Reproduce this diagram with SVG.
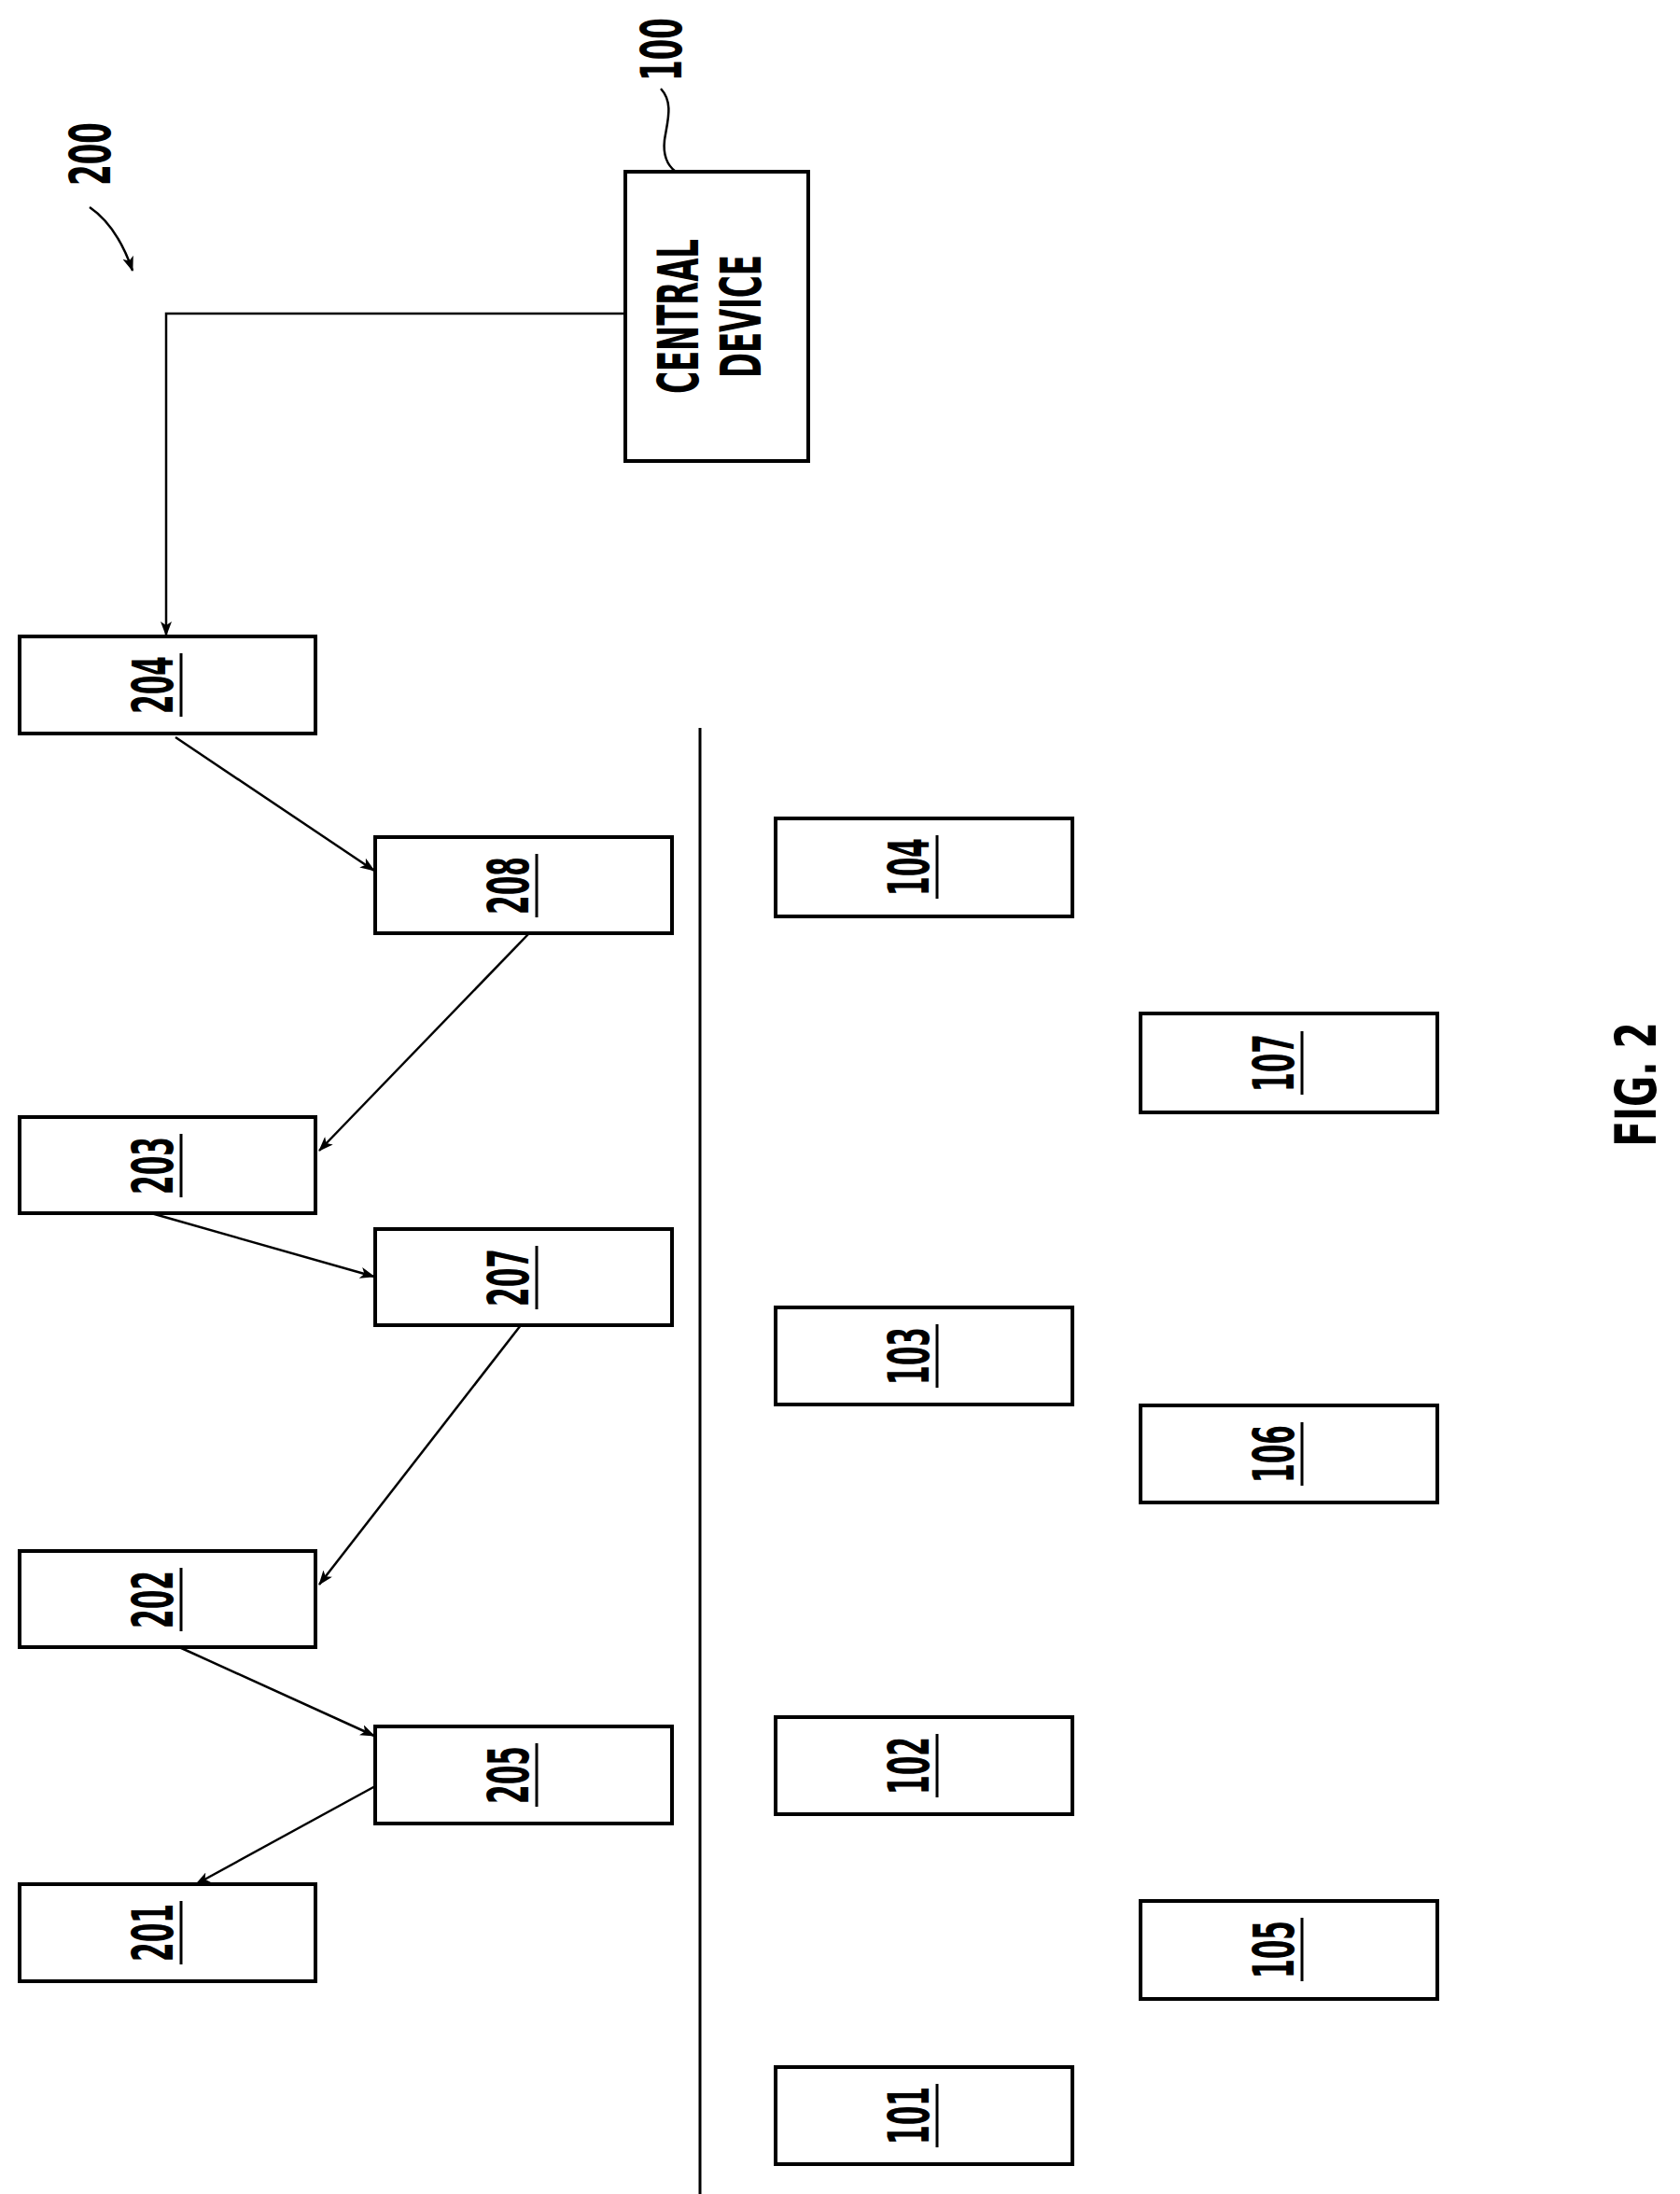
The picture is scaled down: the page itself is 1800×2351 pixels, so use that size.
<svg xmlns="http://www.w3.org/2000/svg" width="1800" height="2351" viewBox="0 0 1800 2351">
<style>
.box{fill:#fff;stroke:#000;stroke-width:4}
.lbl{font-family:"DejaVu Sans Condensed","DejaVu Sans",sans-serif;font-weight:bold;font-size:60px;text-anchor:middle;fill:#000}
.ul{stroke:#000;stroke-width:3}
.con{stroke:#000;stroke-width:2.5;fill:none}
</style>
<defs>
<marker id="ah" markerWidth="16" markerHeight="12" refX="15" refY="6" orient="auto" markerUnits="userSpaceOnUse">
<path d="M0,0 L16,6 L0,12 L4,6 Z" fill="#000"/>
</marker>
</defs>
<rect width="1800" height="2351" fill="#fff"/>
<g id="central">
<rect class="box" x="670" y="184" width="196" height="310"/>
<text class="lbl" transform="translate(748,339) rotate(-90) scale(0.6,1)" font-size="52">CENTRAL</text>
<text class="lbl" transform="translate(815,339) rotate(-90) scale(0.6,1)" font-size="52">DEVICE</text>
</g>
<g id="label100">
<text class="lbl" transform="translate(730,53) rotate(-90) scale(0.6,1)" font-size="56">100</text>
<path class="con" d="M708,95 C722,110 715,130 712,150 C710,168 716,178 724,184"/>
</g>
<g id="label200">
<text class="lbl" transform="translate(118,165) rotate(-90) scale(0.6,1)" font-size="56">200</text>
<path class="con" d="M96,222 C115,235 130,255 142,290" marker-end="url(#ah)"/>
</g>
<g id="n204"><rect class="box" x="21" y="682" width="317" height="104"/><text class="lbl" transform="translate(185,734) rotate(-90) scale(0.55,1)">204</text><line class="ul" x1="194" y1="700" x2="194" y2="768"/></g>
<g id="n208"><rect class="box" x="402" y="897" width="318" height="103"/><text class="lbl" transform="translate(566,949) rotate(-90) scale(0.55,1)">208</text><line class="ul" x1="575" y1="915" x2="575" y2="983"/></g>
<g id="n203"><rect class="box" x="21" y="1197" width="317" height="103"/><text class="lbl" transform="translate(185,1249) rotate(-90) scale(0.55,1)">203</text><line class="ul" x1="194" y1="1215" x2="194" y2="1283"/></g>
<g id="n207"><rect class="box" x="402" y="1317" width="318" height="103"/><text class="lbl" transform="translate(566,1369) rotate(-90) scale(0.55,1)">207</text><line class="ul" x1="575" y1="1335" x2="575" y2="1403"/></g>
<g id="n202"><rect class="box" x="21" y="1662" width="317" height="103"/><text class="lbl" transform="translate(185,1714) rotate(-90) scale(0.55,1)">202</text><line class="ul" x1="194" y1="1680" x2="194" y2="1748"/></g>
<g id="n205"><rect class="box" x="402" y="1850" width="318" height="104"/><text class="lbl" transform="translate(566,1902) rotate(-90) scale(0.55,1)">205</text><line class="ul" x1="575" y1="1868" x2="575" y2="1936"/></g>
<g id="n201"><rect class="box" x="21" y="2019" width="317" height="104"/><text class="lbl" transform="translate(185,2071) rotate(-90) scale(0.55,1)">201</text><line class="ul" x1="194" y1="2037" x2="194" y2="2105"/></g>
<g id="n104"><rect class="box" x="831" y="877" width="318" height="105"/><text class="lbl" transform="translate(995,929) rotate(-90) scale(0.55,1)">104</text><line class="ul" x1="1004" y1="895" x2="1004" y2="963"/></g>
<g id="n107"><rect class="box" x="1222" y="1086" width="318" height="106"/><text class="lbl" transform="translate(1386,1139) rotate(-90) scale(0.55,1)">107</text><line class="ul" x1="1395" y1="1105" x2="1395" y2="1173"/></g>
<g id="n103"><rect class="box" x="831" y="1401" width="318" height="104"/><text class="lbl" transform="translate(995,1453) rotate(-90) scale(0.55,1)">103</text><line class="ul" x1="1004" y1="1419" x2="1004" y2="1487"/></g>
<g id="n106"><rect class="box" x="1222" y="1506" width="318" height="104"/><text class="lbl" transform="translate(1386,1558) rotate(-90) scale(0.55,1)">106</text><line class="ul" x1="1395" y1="1524" x2="1395" y2="1592"/></g>
<g id="n102"><rect class="box" x="831" y="1840" width="318" height="104"/><text class="lbl" transform="translate(995,1892) rotate(-90) scale(0.55,1)">102</text><line class="ul" x1="1004" y1="1858" x2="1004" y2="1926"/></g>
<g id="n105"><rect class="box" x="1222" y="2037" width="318" height="105"/><text class="lbl" transform="translate(1386,2089) rotate(-90) scale(0.55,1)">105</text><line class="ul" x1="1395" y1="2055" x2="1395" y2="2123"/></g>
<g id="n101"><rect class="box" x="831" y="2215" width="318" height="104"/><text class="lbl" transform="translate(995,2267) rotate(-90) scale(0.55,1)">101</text><line class="ul" x1="1004" y1="2233" x2="1004" y2="2301"/></g>
<g id="connectors">
<polyline class="con" points="670,336 178,336 178,681" marker-end="url(#ah)"/>
<line class="con" x1="188" y1="790" x2="401" y2="933" marker-end="url(#ah)"/>
<line class="con" x1="567" y1="1000" x2="342" y2="1233" marker-end="url(#ah)"/>
<line class="con" x1="162" y1="1300" x2="401" y2="1368" marker-end="url(#ah)"/>
<line class="con" x1="558" y1="1420" x2="342" y2="1698" marker-end="url(#ah)"/>
<line class="con" x1="192" y1="1765" x2="401" y2="1860" marker-end="url(#ah)"/>
<line class="con" x1="402" y1="1914" x2="210" y2="2019" marker-end="url(#ah)"/>
</g>
<line x1="750" y1="780" x2="750" y2="2351" stroke="#000" stroke-width="3"/>
<text class="lbl" transform="translate(1774,1162) rotate(-90) scale(0.75,1)" font-size="96">FIG. 2</text>
</svg>
